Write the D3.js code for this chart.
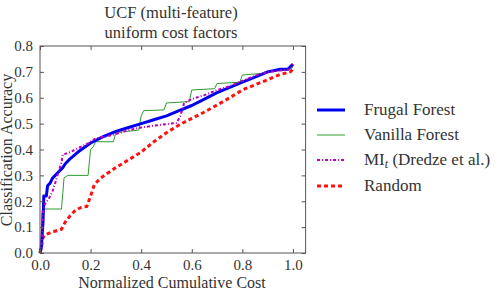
<!DOCTYPE html>
<html><head><meta charset="utf-8">
<script src="https://cdn.jsdelivr.net/npm/d3@7"></script>
<style>
html,body{margin:0;padding:0;background:#fff;}
svg{font-family:'Liberation Serif','Times New Roman',serif;}
</style></head>
<body><svg id="c" width="497" height="292" font-family="Liberation Serif, Times New Roman, serif"></svg>
<script>
const titleLines = ["UCF (multi-feature)", "uniform cost factors"];
const xLabel = "Normalized Cumulative Cost";
const yLabel = "Classification Accuracy";
const xTicks = [0, 0.2, 0.4, 0.6, 0.8, 1.0];
const yTicks = [0, 0.1, 0.2, 0.3, 0.4, 0.5, 0.6, 0.7, 0.8];

const frugalX = [0,0.005,0.012,0.015,0.025,0.03,0.04,0.05,0.06,0.07,0.09,0.1,0.12,0.15,0.2,0.25,0.3,0.35,0.4,0.45,0.5,0.55,0.6,0.65,0.7,0.75,0.8,0.85,0.9,0.95,0.98,1.0];
const frugalY = [0,0.02,0.12,0.22,0.22,0.26,0.27,0.29,0.30,0.31,0.33,0.345,0.365,0.39,0.425,0.45,0.47,0.485,0.50,0.515,0.53,0.55,0.57,0.595,0.62,0.64,0.66,0.68,0.70,0.71,0.71,0.73];

const vanillaX = [0,0.005,0.008,0.01,0.085,0.095,0.11,0.19,0.2,0.21,0.22,0.29,0.3,0.39,0.4,0.41,0.49,0.5,0.59,0.6,0.69,0.7,0.79,0.8,0.89,0.9,0.99,1.0];
const vanillaY = [0,0,0.16,0.17,0.17,0.29,0.30,0.30,0.40,0.41,0.43,0.43,0.465,0.475,0.53,0.55,0.553,0.58,0.585,0.63,0.635,0.655,0.66,0.688,0.695,0.70,0.71,0.72];

const miX = [0,0.005,0.01,0.02,0.035,0.05,0.06,0.075,0.085,0.09,0.12,0.15,0.19,0.22,0.26,0.3,0.35,0.4,0.45,0.5,0.54,0.555,0.57,0.6,0.65,0.7,0.75,0.8,0.85,0.9,0.95,0.99,1.0];
const miY = [0,0.02,0.15,0.19,0.21,0.24,0.27,0.32,0.35,0.38,0.39,0.405,0.424,0.443,0.45,0.46,0.475,0.485,0.492,0.498,0.503,0.53,0.58,0.595,0.61,0.63,0.645,0.665,0.685,0.70,0.705,0.71,0.73];

const randomX = [0,0.005,0.012,0.02,0.045,0.085,0.1,0.12,0.14,0.16,0.185,0.2,0.215,0.24,0.27,0.3,0.35,0.4,0.45,0.5,0.55,0.6,0.65,0.7,0.75,0.8,0.85,0.9,0.95,0.99,1.0];
const randomY = [0,0.02,0.06,0.07,0.08,0.092,0.12,0.145,0.165,0.175,0.18,0.22,0.265,0.29,0.31,0.33,0.36,0.39,0.43,0.465,0.495,0.52,0.545,0.572,0.60,0.63,0.65,0.67,0.69,0.70,0.71];

const seriesNames = ["Frugal Forest", "Vanilla Forest", "MI", "Random"];

const FONT = "Liberation Serif, Times New Roman, serif";
const TXT = "#333";
const svg = d3.select("#c");
const x = d3.scaleLinear().domain([0, 1.05]).range([40, 305.6]);
const y = d3.scaleLinear().domain([0, 0.8]).range([253, 46]);

const series = [
  {name: seriesNames[0], xs: frugalX, ys: frugalY, color: "#0000f0", w: 3, dash: null},
  {name: seriesNames[1], xs: vanillaX, ys: vanillaY, color: "#2e9a2e", w: 1, dash: null},
  {name: seriesNames[2], xs: miX, ys: miY, color: "#bf00bf", w: 2, dash: "3,2,1,2"},
  {name: seriesNames[3], xs: randomX, ys: randomY, color: "#ff1010", w: 3, dash: "4,3"}
];

const line = d3.line().x(d => x(d[0])).y(d => y(d[1]));

const drawOrder = [1, 3, 0, 2];
drawOrder.forEach(i => {
  const s = series[i];
  const pts = s.xs.map((v, k) => [v, s.ys[k]]);
  svg.append("path").attr("d", line(pts)).attr("fill", "none")
    .attr("stroke", s.color).attr("stroke-width", s.w)
    .attr("stroke-dasharray", s.dash).attr("stroke-linejoin", "round");
});

const fx0 = x.range()[0], fx1 = x.range()[1], fy0 = y.range()[0], fy1 = y.range()[1];
svg.append("rect").attr("x", fx0).attr("y", fy1).attr("width", fx1 - fx0).attr("height", fy0 - fy1)
  .attr("fill", "none").attr("stroke", "#555").attr("stroke-width", 1);

const xAxisB = d3.axisBottom(x).tickValues(xTicks).tickFormat(d3.format(".1f")).tickSizeInner(-4).tickSizeOuter(0).tickPadding(6);
const gx = svg.append("g").attr("transform", `translate(0,${fy0})`).call(xAxisB);
const xAxisT = d3.axisTop(x).tickValues(xTicks).tickFormat("").tickSizeInner(-4).tickSizeOuter(0);
const gxt = svg.append("g").attr("transform", `translate(0,${fy1})`).call(xAxisT);
const yAxisL = d3.axisLeft(y).tickValues(yTicks).tickFormat(d3.format(".1f")).tickSizeInner(-4).tickSizeOuter(0).tickPadding(7);
const gy = svg.append("g").attr("transform", `translate(${fx0},0)`).call(yAxisL);
const yAxisR = d3.axisRight(y).tickValues(yTicks).tickFormat("").tickSizeInner(-4).tickSizeOuter(0);
const gyr = svg.append("g").attr("transform", `translate(${fx1},0)`).call(yAxisR);
[gx, gxt, gy, gyr].forEach(g => {
  g.attr("font-family", FONT).attr("font-size", 15);
  g.select(".domain").remove();
  g.selectAll("line").attr("stroke", "#555");
  g.selectAll("text").attr("font-family", FONT).attr("font-size", 15).attr("fill", TXT);
});
gx.selectAll("text").attr("dy", "0.71em");

titleLines.forEach((t, i) => {
  svg.append("text").attr("x", 171).attr("y", 18 + i * 20).attr("text-anchor", "middle")
    .attr("font-family", FONT).attr("font-size", 16.5).attr("fill", TXT).text(t);
});
svg.append("text").attr("x", 172).attr("y", 288).attr("text-anchor", "middle")
  .attr("font-family", FONT).attr("font-size", 16).attr("fill", TXT).text(xLabel);
svg.append("text").attr("transform", "translate(12,150) rotate(-90)").attr("text-anchor", "middle")
  .attr("font-family", FONT).attr("font-size", 16).attr("fill", TXT).text(yLabel);

const legY = [110, 135, 160, 186];
series.forEach((s, i) => {
  svg.append("line").attr("x1", 317).attr("x2", 345).attr("y1", legY[i]).attr("y2", legY[i])
    .attr("stroke", s.color).attr("stroke-width", s.w).attr("stroke-dasharray", s.dash);
  const t = svg.append("text").attr("x", 364).attr("y", legY[i] + 5)
    .attr("font-family", FONT).attr("font-size", 17).attr("fill", TXT);
  if (i === 2) {
    t.append("tspan").text("MI");
    t.append("tspan").attr("font-style", "italic").attr("dy", 3).attr("font-size", 12).text("t");
    t.append("tspan").attr("dy", -3).text(" (Dredze et al.)");
  } else {
    t.text(s.name);
  }
});
</script></body></html>
